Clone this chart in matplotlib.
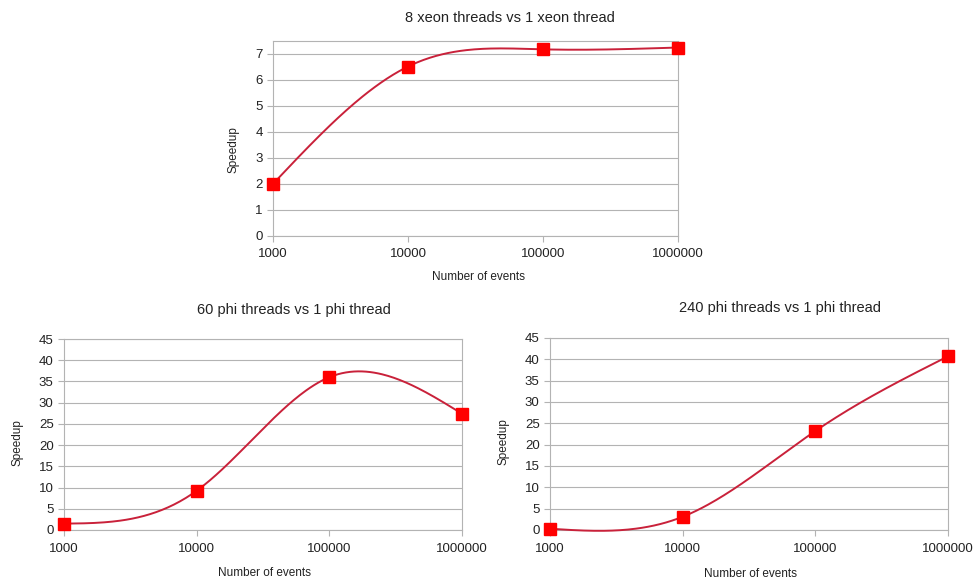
import numpy as np
import matplotlib.pyplot as plt

plt.rcParams['font.family'] = ['Liberation Sans', 'DejaVu Sans']

# data
events = [1000, 10000, 100000, 1000000]
xeon_8_vs_1 = [2.0, 6.5, 7.16, 7.23]
phi_60_vs_1 = [1.5, 9.25, 36.0, 27.4]
phi_240_vs_1 = [0.3, 3.1, 23.2, 40.7]
tick_labels = ['1000', '10000', '100000', '1000000']


def natural_spline(x, y, n=200):
    """Smooth curve through the points (like the spreadsheet's cubic spline)."""
    x = np.asarray(x, float)
    y = np.asarray(y, float)
    k = len(x)
    h = np.diff(x)
    A = np.zeros((k, k))
    b = np.zeros(k)
    A[0, 0] = A[-1, -1] = 1
    for i in range(1, k - 1):
        A[i, i - 1] = h[i - 1]
        A[i, i] = 2 * (h[i - 1] + h[i])
        A[i, i + 1] = h[i]
        b[i] = 6 * ((y[i + 1] - y[i]) / h[i] - (y[i] - y[i - 1]) / h[i - 1])
    M = np.linalg.solve(A, b)
    xs = np.linspace(x[0], x[-1], n)
    idx = np.clip(np.searchsorted(x, xs) - 1, 0, k - 2)
    x0, x1 = x[idx], x[idx + 1]
    hh = x1 - x0
    t0 = x1 - xs
    t1 = xs - x0
    ys = (M[idx] * t0**3 + M[idx + 1] * t1**3) / (6 * hh) \
        + (y[idx] / hh - M[idx] * hh / 6) * t0 \
        + (y[idx + 1] / hh - M[idx + 1] * hh / 6) * t1
    return xs, ys


def draw_panel(ax, values, ymax, ystep, title, title_xy, xlabel_xy, ylabel_xy):
    lx = np.log10(events)
    xs, ys = natural_spline(lx, values)
    ax.plot(10**xs, ys, color='#c9213a', lw=1.4, zorder=3, clip_on=False)
    ax.plot(events, values, ls='none', marker='s', ms=9,
            color='#ff0000', mec='#ff0000', zorder=4, clip_on=False)
    ax.set_xscale('log')
    ax.set_xlim(1000, 1000000)
    ax.set_ylim(0, ymax)
    ax.set_xticks(events)
    ax.set_xticklabels(tick_labels)
    ax.minorticks_off()
    ax.set_yticks(np.arange(0, ymax + 0.01, ystep))
    ax.yaxis.grid(True, color='#b3b3b3', lw=0.8)
    ax.set_axisbelow(True)
    for s in ax.spines.values():
        s.set_color('#b3b3b3')
        s.set_linewidth(0.8)
    ax.tick_params(colors='#b3b3b3', labelcolor='#222222', labelsize=9.5,
                   length=4, width=0.8)
    ax.tick_params(axis='x', pad=5)
    fig.text(*title_xy, title, ha='center', va='center', fontsize=10.5, color='#222222')
    fig.text(*xlabel_xy, 'Number of events', ha='center', va='center', fontsize=8.5, color='#222222')
    fig.text(*ylabel_xy, 'Speedup', ha='center', va='center', rotation=90, fontsize=8.5, color='#222222')


W, H = 976, 583
fig = plt.figure(figsize=(W / 100, H / 100), dpi=100)

ax1 = fig.add_axes([273 / W, 1 - 236 / H, (678 - 273) / W, (236 - 41) / H])
draw_panel(ax1, xeon_8_vs_1, 7.48, 1, '8 xeon threads vs 1 xeon thread',
           (510 / W, 1 - 18 / H), (479 / W, 1 - 277 / H), (234 / W, 1 - 150 / H))

ax2 = fig.add_axes([64 / W, 1 - 530 / H, (462 - 64) / W, (530 - 339) / H])
draw_panel(ax2, phi_60_vs_1, 45, 5, '60 phi threads vs 1 phi thread',
           (294 / W, 1 - 310 / H), (264 / W, 1 - 573 / H), (17 / W, 1 - 443 / H))

ax3 = fig.add_axes([550 / W, 1 - 530 / H, (948 - 550) / W, (530 - 338) / H])
draw_panel(ax3, phi_240_vs_1, 45, 5, '240 phi threads vs 1 phi thread',
           (780 / W, 1 - 308 / H), (750 / W, 1 - 574 / H), (503 / W, 1 - 442 / H))

fig.savefig('out.png', dpi=100, facecolor='white')
